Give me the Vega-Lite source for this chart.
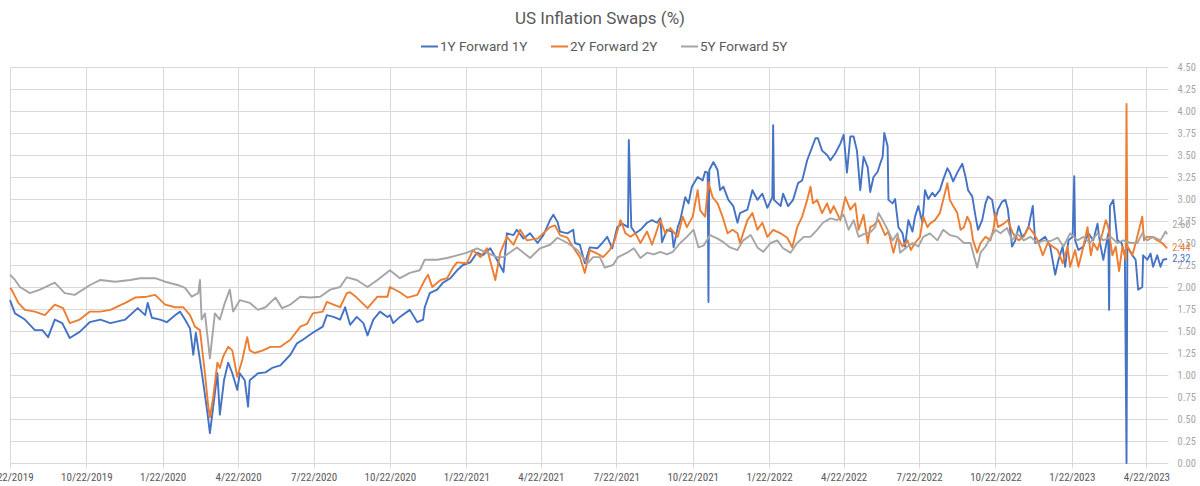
{
  "$schema": "https://vega.github.io/schema/vega-lite/v6.json",
  "width": 1158,
  "height": 396,
  "autosize": {"type": "none"},
  "padding": {"left": 10, "top": 67, "right": 32, "bottom": 23},
  "background": "white",
  "config": {"view": {"stroke": null}, "font": "Roboto"},
  "title": {"text": "US Inflation Swaps (%)", "font": "Roboto", "fontSize": 17, "fontWeight": "normal", "color": "#595959", "anchor": "middle", "frame": "group", "offset": 9, "dx": 11},
  "data": {"values": [
    {"s":"1Y Forward 1Y","d":"2019-07-22","v":1.85},{"s":"1Y Forward 1Y","d":"2019-07-28","v":1.70},{"s":"1Y Forward 1Y","d":"2019-08-09","v":1.63},{"s":"1Y Forward 1Y","d":"2019-08-21","v":1.51},{"s":"1Y Forward 1Y","d":"2019-08-30","v":1.51},{"s":"1Y Forward 1Y","d":"2019-09-06","v":1.43},{"s":"1Y Forward 1Y","d":"2019-09-14","v":1.63},{"s":"1Y Forward 1Y","d":"2019-09-23","v":1.59},{"s":"1Y Forward 1Y","d":"2019-10-02","v":1.42},{"s":"1Y Forward 1Y","d":"2019-10-14","v":1.49},{"s":"1Y Forward 1Y","d":"2019-10-26","v":1.60},{"s":"1Y Forward 1Y","d":"2019-11-08","v":1.63},{"s":"1Y Forward 1Y","d":"2019-11-20","v":1.59},{"s":"1Y Forward 1Y","d":"2019-12-08","v":1.63},{"s":"1Y Forward 1Y","d":"2019-12-23","v":1.76},{"s":"1Y Forward 1Y","d":"2020-01-01","v":1.68},{"s":"1Y Forward 1Y","d":"2020-01-04","v":1.82},{"s":"1Y Forward 1Y","d":"2020-01-09","v":1.65},{"s":"1Y Forward 1Y","d":"2020-01-19","v":1.63},{"s":"1Y Forward 1Y","d":"2020-01-27","v":1.60},{"s":"1Y Forward 1Y","d":"2020-02-06","v":1.68},{"s":"1Y Forward 1Y","d":"2020-02-12","v":1.72},{"s":"1Y Forward 1Y","d":"2020-02-18","v":1.63},{"s":"1Y Forward 1Y","d":"2020-02-24","v":1.53},{"s":"1Y Forward 1Y","d":"2020-02-28","v":1.23},{"s":"1Y Forward 1Y","d":"2020-03-02","v":1.48},{"s":"1Y Forward 1Y","d":"2020-03-07","v":1.17},{"s":"1Y Forward 1Y","d":"2020-03-11","v":0.91},{"s":"1Y Forward 1Y","d":"2020-03-16","v":0.57},{"s":"1Y Forward 1Y","d":"2020-03-19","v":0.34},{"s":"1Y Forward 1Y","d":"2020-03-23","v":0.64},{"s":"1Y Forward 1Y","d":"2020-03-28","v":1.02},{"s":"1Y Forward 1Y","d":"2020-03-31","v":0.55},{"s":"1Y Forward 1Y","d":"2020-04-05","v":0.94},{"s":"1Y Forward 1Y","d":"2020-04-10","v":1.14},{"s":"1Y Forward 1Y","d":"2020-04-15","v":1.02},{"s":"1Y Forward 1Y","d":"2020-04-21","v":0.83},{"s":"1Y Forward 1Y","d":"2020-04-24","v":1.02},{"s":"1Y Forward 1Y","d":"2020-04-30","v":0.94},{"s":"1Y Forward 1Y","d":"2020-05-04","v":0.64},{"s":"1Y Forward 1Y","d":"2020-05-06","v":0.94},{"s":"1Y Forward 1Y","d":"2020-05-16","v":1.02},{"s":"1Y Forward 1Y","d":"2020-05-25","v":1.03},{"s":"1Y Forward 1Y","d":"2020-06-02","v":1.08},{"s":"1Y Forward 1Y","d":"2020-06-12","v":1.11},{"s":"1Y Forward 1Y","d":"2020-06-24","v":1.23},{"s":"1Y Forward 1Y","d":"2020-07-02","v":1.36},{"s":"1Y Forward 1Y","d":"2020-07-09","v":1.40},{"s":"1Y Forward 1Y","d":"2020-07-21","v":1.48},{"s":"1Y Forward 1Y","d":"2020-08-02","v":1.55},{"s":"1Y Forward 1Y","d":"2020-08-07","v":1.68},{"s":"1Y Forward 1Y","d":"2020-08-15","v":1.66},{"s":"1Y Forward 1Y","d":"2020-08-23","v":1.63},{"s":"1Y Forward 1Y","d":"2020-08-29","v":1.77},{"s":"1Y Forward 1Y","d":"2020-09-04","v":1.57},{"s":"1Y Forward 1Y","d":"2020-09-12","v":1.66},{"s":"1Y Forward 1Y","d":"2020-09-20","v":1.59},{"s":"1Y Forward 1Y","d":"2020-09-25","v":1.45},{"s":"1Y Forward 1Y","d":"2020-10-02","v":1.63},{"s":"1Y Forward 1Y","d":"2020-10-10","v":1.72},{"s":"1Y Forward 1Y","d":"2020-10-19","v":1.66},{"s":"1Y Forward 1Y","d":"2020-10-22","v":1.68},{"s":"1Y Forward 1Y","d":"2020-10-26","v":1.59},{"s":"1Y Forward 1Y","d":"2020-11-03","v":1.66},{"s":"1Y Forward 1Y","d":"2020-11-15","v":1.74},{"s":"1Y Forward 1Y","d":"2020-11-24","v":1.60},{"s":"1Y Forward 1Y","d":"2020-12-01","v":1.63},{"s":"1Y Forward 1Y","d":"2020-12-03","v":1.77},{"s":"1Y Forward 1Y","d":"2020-12-09","v":1.93},{"s":"1Y Forward 1Y","d":"2020-12-18","v":1.97},{"s":"1Y Forward 1Y","d":"2020-12-25","v":2.05},{"s":"1Y Forward 1Y","d":"2021-01-03","v":2.10},{"s":"1Y Forward 1Y","d":"2021-01-11","v":2.19},{"s":"1Y Forward 1Y","d":"2021-01-18","v":2.25},{"s":"1Y Forward 1Y","d":"2021-01-27","v":2.28},{"s":"1Y Forward 1Y","d":"2021-02-04","v":2.39},{"s":"1Y Forward 1Y","d":"2021-02-11","v":2.36},{"s":"1Y Forward 1Y","d":"2021-02-20","v":2.44},{"s":"1Y Forward 1Y","d":"2021-02-28","v":2.31},{"s":"1Y Forward 1Y","d":"2021-03-08","v":2.17},{"s":"1Y Forward 1Y","d":"2021-03-12","v":2.61},{"s":"1Y Forward 1Y","d":"2021-03-20","v":2.59},{"s":"1Y Forward 1Y","d":"2021-03-24","v":2.65},{"s":"1Y Forward 1Y","d":"2021-04-01","v":2.55},{"s":"1Y Forward 1Y","d":"2021-04-09","v":2.61},{"s":"1Y Forward 1Y","d":"2021-04-18","v":2.50},{"s":"1Y Forward 1Y","d":"2021-04-25","v":2.59},{"s":"1Y Forward 1Y","d":"2021-05-03","v":2.76},{"s":"1Y Forward 1Y","d":"2021-05-07","v":2.82},{"s":"1Y Forward 1Y","d":"2021-05-12","v":2.74},{"s":"1Y Forward 1Y","d":"2021-05-15","v":2.63},{"s":"1Y Forward 1Y","d":"2021-05-24","v":2.61},{"s":"1Y Forward 1Y","d":"2021-05-31","v":2.65},{"s":"1Y Forward 1Y","d":"2021-06-02","v":2.50},{"s":"1Y Forward 1Y","d":"2021-06-08","v":2.48},{"s":"1Y Forward 1Y","d":"2021-06-14","v":2.27},{"s":"1Y Forward 1Y","d":"2021-06-20","v":2.45},{"s":"1Y Forward 1Y","d":"2021-06-29","v":2.44},{"s":"1Y Forward 1Y","d":"2021-07-05","v":2.50},{"s":"1Y Forward 1Y","d":"2021-07-11","v":2.57},{"s":"1Y Forward 1Y","d":"2021-07-17","v":2.44},{"s":"1Y Forward 1Y","d":"2021-07-23","v":2.68},{"s":"1Y Forward 1Y","d":"2021-07-29","v":2.72},{"s":"1Y Forward 1Y","d":"2021-08-05","v":2.68},{"s":"1Y Forward 1Y","d":"2021-08-06","v":3.67},{"s":"1Y Forward 1Y","d":"2021-08-09","v":2.68},{"s":"1Y Forward 1Y","d":"2021-08-14","v":2.61},{"s":"1Y Forward 1Y","d":"2021-08-20","v":2.65},{"s":"1Y Forward 1Y","d":"2021-08-28","v":2.73},{"s":"1Y Forward 1Y","d":"2021-09-03","v":2.76},{"s":"1Y Forward 1Y","d":"2021-09-09","v":2.73},{"s":"1Y Forward 1Y","d":"2021-09-13","v":2.78},{"s":"1Y Forward 1Y","d":"2021-09-15","v":2.51},{"s":"1Y Forward 1Y","d":"2021-09-21","v":2.65},{"s":"1Y Forward 1Y","d":"2021-09-27","v":2.63},{"s":"1Y Forward 1Y","d":"2021-09-29","v":2.45},{"s":"1Y Forward 1Y","d":"2021-10-04","v":2.68},{"s":"1Y Forward 1Y","d":"2021-10-07","v":2.76},{"s":"1Y Forward 1Y","d":"2021-10-13","v":3.02},{"s":"1Y Forward 1Y","d":"2021-10-17","v":2.95},{"s":"1Y Forward 1Y","d":"2021-10-21","v":3.14},{"s":"1Y Forward 1Y","d":"2021-10-28","v":3.25},{"s":"1Y Forward 1Y","d":"2021-11-03","v":3.21},{"s":"1Y Forward 1Y","d":"2021-11-06","v":3.31},{"s":"1Y Forward 1Y","d":"2021-11-09","v":3.30},{"s":"1Y Forward 1Y","d":"2021-11-10","v":1.83},{"s":"1Y Forward 1Y","d":"2021-11-11","v":3.33},{"s":"1Y Forward 1Y","d":"2021-11-16","v":3.42},{"s":"1Y Forward 1Y","d":"2021-11-21","v":3.33},{"s":"1Y Forward 1Y","d":"2021-11-24","v":3.10},{"s":"1Y Forward 1Y","d":"2021-11-28","v":3.14},{"s":"1Y Forward 1Y","d":"2021-12-04","v":2.99},{"s":"1Y Forward 1Y","d":"2021-12-10","v":2.92},{"s":"1Y Forward 1Y","d":"2021-12-15","v":2.73},{"s":"1Y Forward 1Y","d":"2021-12-18","v":2.84},{"s":"1Y Forward 1Y","d":"2021-12-27","v":2.88},{"s":"1Y Forward 1Y","d":"2022-01-02","v":3.10},{"s":"1Y Forward 1Y","d":"2022-01-08","v":2.99},{"s":"1Y Forward 1Y","d":"2022-01-14","v":3.06},{"s":"1Y Forward 1Y","d":"2022-01-20","v":2.90},{"s":"1Y Forward 1Y","d":"2022-01-26","v":3.02},{"s":"1Y Forward 1Y","d":"2022-01-27","v":3.84},{"s":"1Y Forward 1Y","d":"2022-01-28","v":2.99},{"s":"1Y Forward 1Y","d":"2022-02-05","v":2.92},{"s":"1Y Forward 1Y","d":"2022-02-08","v":3.06},{"s":"1Y Forward 1Y","d":"2022-02-14","v":2.92},{"s":"1Y Forward 1Y","d":"2022-02-20","v":2.99},{"s":"1Y Forward 1Y","d":"2022-02-26","v":3.18},{"s":"1Y Forward 1Y","d":"2022-03-03","v":3.21},{"s":"1Y Forward 1Y","d":"2022-03-09","v":3.44},{"s":"1Y Forward 1Y","d":"2022-03-15","v":3.59},{"s":"1Y Forward 1Y","d":"2022-03-19","v":3.69},{"s":"1Y Forward 1Y","d":"2022-03-22","v":3.69},{"s":"1Y Forward 1Y","d":"2022-03-27","v":3.55},{"s":"1Y Forward 1Y","d":"2022-04-02","v":3.50},{"s":"1Y Forward 1Y","d":"2022-04-06","v":3.44},{"s":"1Y Forward 1Y","d":"2022-04-12","v":3.52},{"s":"1Y Forward 1Y","d":"2022-04-18","v":3.63},{"s":"1Y Forward 1Y","d":"2022-04-22","v":3.73},{"s":"1Y Forward 1Y","d":"2022-04-26","v":3.30},{"s":"1Y Forward 1Y","d":"2022-04-30","v":3.71},{"s":"1Y Forward 1Y","d":"2022-05-04","v":3.71},{"s":"1Y Forward 1Y","d":"2022-05-08","v":3.55},{"s":"1Y Forward 1Y","d":"2022-05-12","v":3.10},{"s":"1Y Forward 1Y","d":"2022-05-16","v":3.48},{"s":"1Y Forward 1Y","d":"2022-05-21","v":3.36},{"s":"1Y Forward 1Y","d":"2022-05-24","v":3.08},{"s":"1Y Forward 1Y","d":"2022-05-28","v":3.25},{"s":"1Y Forward 1Y","d":"2022-06-02","v":3.31},{"s":"1Y Forward 1Y","d":"2022-06-05","v":3.40},{"s":"1Y Forward 1Y","d":"2022-06-08","v":3.48},{"s":"1Y Forward 1Y","d":"2022-06-10","v":3.75},{"s":"1Y Forward 1Y","d":"2022-06-14","v":3.60},{"s":"1Y Forward 1Y","d":"2022-06-15","v":2.99},{"s":"1Y Forward 1Y","d":"2022-06-20","v":2.95},{"s":"1Y Forward 1Y","d":"2022-06-23","v":3.00},{"s":"1Y Forward 1Y","d":"2022-06-27","v":2.68},{"s":"1Y Forward 1Y","d":"2022-07-02","v":2.61},{"s":"1Y Forward 1Y","d":"2022-07-05","v":2.46},{"s":"1Y Forward 1Y","d":"2022-07-09","v":2.76},{"s":"1Y Forward 1Y","d":"2022-07-14","v":2.63},{"s":"1Y Forward 1Y","d":"2022-07-17","v":2.80},{"s":"1Y Forward 1Y","d":"2022-07-21","v":2.92},{"s":"1Y Forward 1Y","d":"2022-07-26","v":2.73},{"s":"1Y Forward 1Y","d":"2022-07-29","v":3.10},{"s":"1Y Forward 1Y","d":"2022-08-02","v":3.00},{"s":"1Y Forward 1Y","d":"2022-08-07","v":3.07},{"s":"1Y Forward 1Y","d":"2022-08-10","v":3.03},{"s":"1Y Forward 1Y","d":"2022-08-16","v":3.10},{"s":"1Y Forward 1Y","d":"2022-08-20","v":3.22},{"s":"1Y Forward 1Y","d":"2022-08-25","v":3.35},{"s":"1Y Forward 1Y","d":"2022-08-28","v":3.30},{"s":"1Y Forward 1Y","d":"2022-09-01","v":3.20},{"s":"1Y Forward 1Y","d":"2022-09-06","v":3.30},{"s":"1Y Forward 1Y","d":"2022-09-12","v":3.40},{"s":"1Y Forward 1Y","d":"2022-09-16","v":3.25},{"s":"1Y Forward 1Y","d":"2022-09-19","v":3.10},{"s":"1Y Forward 1Y","d":"2022-09-24","v":3.03},{"s":"1Y Forward 1Y","d":"2022-09-28","v":2.80},{"s":"1Y Forward 1Y","d":"2022-10-01","v":2.65},{"s":"1Y Forward 1Y","d":"2022-10-06","v":2.76},{"s":"1Y Forward 1Y","d":"2022-10-10","v":2.95},{"s":"1Y Forward 1Y","d":"2022-10-13","v":3.03},{"s":"1Y Forward 1Y","d":"2022-10-18","v":2.99},{"s":"1Y Forward 1Y","d":"2022-10-22","v":2.76},{"s":"1Y Forward 1Y","d":"2022-10-25","v":2.88},{"s":"1Y Forward 1Y","d":"2022-10-30","v":2.97},{"s":"1Y Forward 1Y","d":"2022-11-03","v":2.99},{"s":"1Y Forward 1Y","d":"2022-11-06","v":2.88},{"s":"1Y Forward 1Y","d":"2022-11-11","v":2.46},{"s":"1Y Forward 1Y","d":"2022-11-15","v":2.53},{"s":"1Y Forward 1Y","d":"2022-11-19","v":2.69},{"s":"1Y Forward 1Y","d":"2022-11-23","v":2.57},{"s":"1Y Forward 1Y","d":"2022-11-27","v":2.61},{"s":"1Y Forward 1Y","d":"2022-12-01","v":2.69},{"s":"1Y Forward 1Y","d":"2022-12-06","v":2.92},{"s":"1Y Forward 1Y","d":"2022-12-09","v":2.50},{"s":"1Y Forward 1Y","d":"2022-12-15","v":2.53},{"s":"1Y Forward 1Y","d":"2022-12-21","v":2.57},{"s":"1Y Forward 1Y","d":"2022-12-27","v":2.46},{"s":"1Y Forward 1Y","d":"2023-01-02","v":2.14},{"s":"1Y Forward 1Y","d":"2023-01-06","v":2.31},{"s":"1Y Forward 1Y","d":"2023-01-11","v":2.46},{"s":"1Y Forward 1Y","d":"2023-01-14","v":2.23},{"s":"1Y Forward 1Y","d":"2023-01-18","v":2.53},{"s":"1Y Forward 1Y","d":"2023-01-23","v":2.57},{"s":"1Y Forward 1Y","d":"2023-01-25","v":3.26},{"s":"1Y Forward 1Y","d":"2023-01-26","v":2.53},{"s":"1Y Forward 1Y","d":"2023-01-30","v":2.42},{"s":"1Y Forward 1Y","d":"2023-02-05","v":2.46},{"s":"1Y Forward 1Y","d":"2023-02-11","v":2.61},{"s":"1Y Forward 1Y","d":"2023-02-17","v":2.53},{"s":"1Y Forward 1Y","d":"2023-02-22","v":2.72},{"s":"1Y Forward 1Y","d":"2023-02-25","v":2.50},{"s":"1Y Forward 1Y","d":"2023-03-01","v":2.31},{"s":"1Y Forward 1Y","d":"2023-03-07","v":2.61},{"s":"1Y Forward 1Y","d":"2023-03-08","v":1.74},{"s":"1Y Forward 1Y","d":"2023-03-09","v":2.92},{"s":"1Y Forward 1Y","d":"2023-03-13","v":2.99},{"s":"1Y Forward 1Y","d":"2023-03-18","v":2.53},{"s":"1Y Forward 1Y","d":"2023-03-23","v":2.50},{"s":"1Y Forward 1Y","d":"2023-03-27","v":2.36},{"s":"1Y Forward 1Y","d":"2023-03-29","v":0.00},{"s":"1Y Forward 1Y","d":"2023-03-30","v":2.46},{"s":"1Y Forward 1Y","d":"2023-04-05","v":2.36},{"s":"1Y Forward 1Y","d":"2023-04-09","v":2.31},{"s":"1Y Forward 1Y","d":"2023-04-12","v":1.97},{"s":"1Y Forward 1Y","d":"2023-04-17","v":2.00},{"s":"1Y Forward 1Y","d":"2023-04-18","v":2.36},{"s":"1Y Forward 1Y","d":"2023-04-23","v":2.31},{"s":"1Y Forward 1Y","d":"2023-04-27","v":2.38},{"s":"1Y Forward 1Y","d":"2023-04-30","v":2.23},{"s":"1Y Forward 1Y","d":"2023-05-05","v":2.36},{"s":"1Y Forward 1Y","d":"2023-05-09","v":2.23},{"s":"1Y Forward 1Y","d":"2023-05-12","v":2.31},{"s":"1Y Forward 1Y","d":"2023-05-17","v":2.32},
    {"s":"2Y Forward 2Y","d":"2019-07-22","v":1.99},{"s":"2Y Forward 2Y","d":"2019-07-24","v":1.97},{"s":"2Y Forward 2Y","d":"2019-08-01","v":1.82},{"s":"2Y Forward 2Y","d":"2019-08-09","v":1.74},{"s":"2Y Forward 2Y","d":"2019-08-21","v":1.72},{"s":"2Y Forward 2Y","d":"2019-09-02","v":1.68},{"s":"2Y Forward 2Y","d":"2019-09-14","v":1.80},{"s":"2Y Forward 2Y","d":"2019-09-24","v":1.76},{"s":"2Y Forward 2Y","d":"2019-10-02","v":1.59},{"s":"2Y Forward 2Y","d":"2019-10-14","v":1.63},{"s":"2Y Forward 2Y","d":"2019-10-26","v":1.72},{"s":"2Y Forward 2Y","d":"2019-11-08","v":1.72},{"s":"2Y Forward 2Y","d":"2019-11-20","v":1.74},{"s":"2Y Forward 2Y","d":"2019-12-08","v":1.82},{"s":"2Y Forward 2Y","d":"2019-12-20","v":1.88},{"s":"2Y Forward 2Y","d":"2020-01-03","v":1.89},{"s":"2Y Forward 2Y","d":"2020-01-13","v":1.91},{"s":"2Y Forward 2Y","d":"2020-01-25","v":1.80},{"s":"2Y Forward 2Y","d":"2020-02-06","v":1.77},{"s":"2Y Forward 2Y","d":"2020-02-16","v":1.77},{"s":"2Y Forward 2Y","d":"2020-02-24","v":1.68},{"s":"2Y Forward 2Y","d":"2020-03-01","v":1.55},{"s":"2Y Forward 2Y","d":"2020-03-07","v":1.51},{"s":"2Y Forward 2Y","d":"2020-03-13","v":1.02},{"s":"2Y Forward 2Y","d":"2020-03-17","v":0.64},{"s":"2Y Forward 2Y","d":"2020-03-19","v":0.52},{"s":"2Y Forward 2Y","d":"2020-03-23","v":0.75},{"s":"2Y Forward 2Y","d":"2020-03-28","v":1.14},{"s":"2Y Forward 2Y","d":"2020-03-31","v":1.08},{"s":"2Y Forward 2Y","d":"2020-04-04","v":1.21},{"s":"2Y Forward 2Y","d":"2020-04-10","v":1.32},{"s":"2Y Forward 2Y","d":"2020-04-15","v":1.28},{"s":"2Y Forward 2Y","d":"2020-04-21","v":0.98},{"s":"2Y Forward 2Y","d":"2020-04-27","v":1.17},{"s":"2Y Forward 2Y","d":"2020-05-03","v":1.43},{"s":"2Y Forward 2Y","d":"2020-05-06","v":1.28},{"s":"2Y Forward 2Y","d":"2020-05-12","v":1.25},{"s":"2Y Forward 2Y","d":"2020-05-22","v":1.28},{"s":"2Y Forward 2Y","d":"2020-05-31","v":1.32},{"s":"2Y Forward 2Y","d":"2020-06-12","v":1.32},{"s":"2Y Forward 2Y","d":"2020-06-24","v":1.40},{"s":"2Y Forward 2Y","d":"2020-07-06","v":1.55},{"s":"2Y Forward 2Y","d":"2020-07-14","v":1.58},{"s":"2Y Forward 2Y","d":"2020-07-21","v":1.70},{"s":"2Y Forward 2Y","d":"2020-08-02","v":1.72},{"s":"2Y Forward 2Y","d":"2020-08-07","v":1.83},{"s":"2Y Forward 2Y","d":"2020-08-15","v":1.80},{"s":"2Y Forward 2Y","d":"2020-08-23","v":1.77},{"s":"2Y Forward 2Y","d":"2020-08-31","v":1.93},{"s":"2Y Forward 2Y","d":"2020-09-04","v":1.94},{"s":"2Y Forward 2Y","d":"2020-09-12","v":1.88},{"s":"2Y Forward 2Y","d":"2020-09-25","v":1.76},{"s":"2Y Forward 2Y","d":"2020-10-07","v":1.89},{"s":"2Y Forward 2Y","d":"2020-10-19","v":1.89},{"s":"2Y Forward 2Y","d":"2020-10-22","v":2.00},{"s":"2Y Forward 2Y","d":"2020-11-03","v":1.94},{"s":"2Y Forward 2Y","d":"2020-11-12","v":1.88},{"s":"2Y Forward 2Y","d":"2020-11-24","v":1.91},{"s":"2Y Forward 2Y","d":"2020-12-03","v":2.08},{"s":"2Y Forward 2Y","d":"2020-12-07","v":2.14},{"s":"2Y Forward 2Y","d":"2020-12-12","v":2.00},{"s":"2Y Forward 2Y","d":"2020-12-22","v":2.08},{"s":"2Y Forward 2Y","d":"2020-12-30","v":2.10},{"s":"2Y Forward 2Y","d":"2021-01-06","v":2.22},{"s":"2Y Forward 2Y","d":"2021-01-11","v":2.28},{"s":"2Y Forward 2Y","d":"2021-01-23","v":2.27},{"s":"2Y Forward 2Y","d":"2021-01-30","v":2.42},{"s":"2Y Forward 2Y","d":"2021-02-08","v":2.34},{"s":"2Y Forward 2Y","d":"2021-02-16","v":2.44},{"s":"2Y Forward 2Y","d":"2021-02-26","v":2.08},{"s":"2Y Forward 2Y","d":"2021-03-04","v":2.39},{"s":"2Y Forward 2Y","d":"2021-03-12","v":2.57},{"s":"2Y Forward 2Y","d":"2021-03-20","v":2.48},{"s":"2Y Forward 2Y","d":"2021-03-28","v":2.65},{"s":"2Y Forward 2Y","d":"2021-04-05","v":2.53},{"s":"2Y Forward 2Y","d":"2021-04-18","v":2.55},{"s":"2Y Forward 2Y","d":"2021-04-25","v":2.61},{"s":"2Y Forward 2Y","d":"2021-05-03","v":2.68},{"s":"2Y Forward 2Y","d":"2021-05-09","v":2.70},{"s":"2Y Forward 2Y","d":"2021-05-15","v":2.59},{"s":"2Y Forward 2Y","d":"2021-05-24","v":2.56},{"s":"2Y Forward 2Y","d":"2021-06-02","v":2.42},{"s":"2Y Forward 2Y","d":"2021-06-08","v":2.34},{"s":"2Y Forward 2Y","d":"2021-06-14","v":2.16},{"s":"2Y Forward 2Y","d":"2021-06-20","v":2.42},{"s":"2Y Forward 2Y","d":"2021-06-29","v":2.38},{"s":"2Y Forward 2Y","d":"2021-07-06","v":2.34},{"s":"2Y Forward 2Y","d":"2021-07-14","v":2.42},{"s":"2Y Forward 2Y","d":"2021-07-20","v":2.53},{"s":"2Y Forward 2Y","d":"2021-07-27","v":2.76},{"s":"2Y Forward 2Y","d":"2021-08-02","v":2.61},{"s":"2Y Forward 2Y","d":"2021-08-08","v":2.57},{"s":"2Y Forward 2Y","d":"2021-08-14","v":2.61},{"s":"2Y Forward 2Y","d":"2021-08-20","v":2.50},{"s":"2Y Forward 2Y","d":"2021-08-28","v":2.63},{"s":"2Y Forward 2Y","d":"2021-09-03","v":2.48},{"s":"2Y Forward 2Y","d":"2021-09-13","v":2.76},{"s":"2Y Forward 2Y","d":"2021-09-19","v":2.61},{"s":"2Y Forward 2Y","d":"2021-09-25","v":2.67},{"s":"2Y Forward 2Y","d":"2021-10-04","v":2.57},{"s":"2Y Forward 2Y","d":"2021-10-10","v":2.80},{"s":"2Y Forward 2Y","d":"2021-10-15","v":2.68},{"s":"2Y Forward 2Y","d":"2021-10-22","v":2.80},{"s":"2Y Forward 2Y","d":"2021-10-28","v":3.10},{"s":"2Y Forward 2Y","d":"2021-10-31","v":2.87},{"s":"2Y Forward 2Y","d":"2021-11-06","v":2.80},{"s":"2Y Forward 2Y","d":"2021-11-10","v":3.19},{"s":"2Y Forward 2Y","d":"2021-11-15","v":3.02},{"s":"2Y Forward 2Y","d":"2021-11-21","v":2.95},{"s":"2Y Forward 2Y","d":"2021-11-27","v":2.80},{"s":"2Y Forward 2Y","d":"2021-12-03","v":2.61},{"s":"2Y Forward 2Y","d":"2021-12-09","v":2.65},{"s":"2Y Forward 2Y","d":"2021-12-15","v":2.61},{"s":"2Y Forward 2Y","d":"2021-12-18","v":2.50},{"s":"2Y Forward 2Y","d":"2021-12-27","v":2.76},{"s":"2Y Forward 2Y","d":"2022-01-02","v":2.84},{"s":"2Y Forward 2Y","d":"2022-01-08","v":2.65},{"s":"2Y Forward 2Y","d":"2022-01-14","v":2.73},{"s":"2Y Forward 2Y","d":"2022-01-20","v":2.57},{"s":"2Y Forward 2Y","d":"2022-01-27","v":2.65},{"s":"2Y Forward 2Y","d":"2022-02-05","v":2.61},{"s":"2Y Forward 2Y","d":"2022-02-13","v":2.56},{"s":"2Y Forward 2Y","d":"2022-02-19","v":2.45},{"s":"2Y Forward 2Y","d":"2022-02-25","v":2.68},{"s":"2Y Forward 2Y","d":"2022-03-03","v":2.80},{"s":"2Y Forward 2Y","d":"2022-03-09","v":2.99},{"s":"2Y Forward 2Y","d":"2022-03-13","v":3.14},{"s":"2Y Forward 2Y","d":"2022-03-16","v":2.95},{"s":"2Y Forward 2Y","d":"2022-03-21","v":2.99},{"s":"2Y Forward 2Y","d":"2022-03-27","v":2.84},{"s":"2Y Forward 2Y","d":"2022-04-02","v":2.95},{"s":"2Y Forward 2Y","d":"2022-04-06","v":2.84},{"s":"2Y Forward 2Y","d":"2022-04-10","v":2.92},{"s":"2Y Forward 2Y","d":"2022-04-18","v":2.76},{"s":"2Y Forward 2Y","d":"2022-04-24","v":3.02},{"s":"2Y Forward 2Y","d":"2022-04-30","v":2.88},{"s":"2Y Forward 2Y","d":"2022-05-06","v":2.95},{"s":"2Y Forward 2Y","d":"2022-05-10","v":2.65},{"s":"2Y Forward 2Y","d":"2022-05-16","v":2.82},{"s":"2Y Forward 2Y","d":"2022-05-21","v":2.50},{"s":"2Y Forward 2Y","d":"2022-05-24","v":2.68},{"s":"2Y Forward 2Y","d":"2022-05-28","v":2.70},{"s":"2Y Forward 2Y","d":"2022-06-03","v":2.76},{"s":"2Y Forward 2Y","d":"2022-06-11","v":2.59},{"s":"2Y Forward 2Y","d":"2022-06-15","v":2.63},{"s":"2Y Forward 2Y","d":"2022-06-21","v":2.39},{"s":"2Y Forward 2Y","d":"2022-06-26","v":2.57},{"s":"2Y Forward 2Y","d":"2022-07-02","v":2.46},{"s":"2Y Forward 2Y","d":"2022-07-08","v":2.53},{"s":"2Y Forward 2Y","d":"2022-07-12","v":2.42},{"s":"2Y Forward 2Y","d":"2022-07-17","v":2.50},{"s":"2Y Forward 2Y","d":"2022-07-23","v":2.57},{"s":"2Y Forward 2Y","d":"2022-07-27","v":2.80},{"s":"2Y Forward 2Y","d":"2022-08-01","v":2.68},{"s":"2Y Forward 2Y","d":"2022-08-04","v":2.72},{"s":"2Y Forward 2Y","d":"2022-08-10","v":2.76},{"s":"2Y Forward 2Y","d":"2022-08-16","v":2.84},{"s":"2Y Forward 2Y","d":"2022-08-20","v":2.99},{"s":"2Y Forward 2Y","d":"2022-08-25","v":3.18},{"s":"2Y Forward 2Y","d":"2022-08-28","v":2.99},{"s":"2Y Forward 2Y","d":"2022-09-01","v":2.92},{"s":"2Y Forward 2Y","d":"2022-09-06","v":2.84},{"s":"2Y Forward 2Y","d":"2022-09-10","v":2.65},{"s":"2Y Forward 2Y","d":"2022-09-14","v":2.68},{"s":"2Y Forward 2Y","d":"2022-09-18","v":2.80},{"s":"2Y Forward 2Y","d":"2022-09-22","v":2.72},{"s":"2Y Forward 2Y","d":"2022-09-25","v":2.53},{"s":"2Y Forward 2Y","d":"2022-09-30","v":2.39},{"s":"2Y Forward 2Y","d":"2022-10-04","v":2.50},{"s":"2Y Forward 2Y","d":"2022-10-10","v":2.57},{"s":"2Y Forward 2Y","d":"2022-10-16","v":2.53},{"s":"2Y Forward 2Y","d":"2022-10-20","v":2.68},{"s":"2Y Forward 2Y","d":"2022-10-22","v":2.84},{"s":"2Y Forward 2Y","d":"2022-10-25","v":2.68},{"s":"2Y Forward 2Y","d":"2022-11-01","v":2.72},{"s":"2Y Forward 2Y","d":"2022-11-06","v":2.76},{"s":"2Y Forward 2Y","d":"2022-11-12","v":2.61},{"s":"2Y Forward 2Y","d":"2022-11-19","v":2.53},{"s":"2Y Forward 2Y","d":"2022-11-25","v":2.57},{"s":"2Y Forward 2Y","d":"2022-12-01","v":2.68},{"s":"2Y Forward 2Y","d":"2022-12-07","v":2.61},{"s":"2Y Forward 2Y","d":"2022-12-12","v":2.53},{"s":"2Y Forward 2Y","d":"2022-12-18","v":2.36},{"s":"2Y Forward 2Y","d":"2022-12-24","v":2.50},{"s":"2Y Forward 2Y","d":"2022-12-30","v":2.46},{"s":"2Y Forward 2Y","d":"2023-01-05","v":2.42},{"s":"2Y Forward 2Y","d":"2023-01-11","v":2.27},{"s":"2Y Forward 2Y","d":"2023-01-17","v":2.46},{"s":"2Y Forward 2Y","d":"2023-01-20","v":2.23},{"s":"2Y Forward 2Y","d":"2023-01-26","v":2.42},{"s":"2Y Forward 2Y","d":"2023-01-30","v":2.23},{"s":"2Y Forward 2Y","d":"2023-02-05","v":2.46},{"s":"2Y Forward 2Y","d":"2023-02-10","v":2.68},{"s":"2Y Forward 2Y","d":"2023-02-14","v":2.36},{"s":"2Y Forward 2Y","d":"2023-02-17","v":2.50},{"s":"2Y Forward 2Y","d":"2023-02-22","v":2.42},{"s":"2Y Forward 2Y","d":"2023-02-28","v":2.61},{"s":"2Y Forward 2Y","d":"2023-03-04","v":2.76},{"s":"2Y Forward 2Y","d":"2023-03-07","v":2.68},{"s":"2Y Forward 2Y","d":"2023-03-12","v":2.36},{"s":"2Y Forward 2Y","d":"2023-03-16","v":2.46},{"s":"2Y Forward 2Y","d":"2023-03-20","v":2.18},{"s":"2Y Forward 2Y","d":"2023-03-24","v":2.46},{"s":"2Y Forward 2Y","d":"2023-03-28","v":2.31},{"s":"2Y Forward 2Y","d":"2023-03-29","v":4.08},{"s":"2Y Forward 2Y","d":"2023-03-30","v":2.46},{"s":"2Y Forward 2Y","d":"2023-04-05","v":2.36},{"s":"2Y Forward 2Y","d":"2023-04-09","v":2.50},{"s":"2Y Forward 2Y","d":"2023-04-12","v":2.61},{"s":"2Y Forward 2Y","d":"2023-04-17","v":2.80},{"s":"2Y Forward 2Y","d":"2023-04-19","v":2.53},{"s":"2Y Forward 2Y","d":"2023-04-23","v":2.57},{"s":"2Y Forward 2Y","d":"2023-04-29","v":2.57},{"s":"2Y Forward 2Y","d":"2023-05-05","v":2.53},{"s":"2Y Forward 2Y","d":"2023-05-11","v":2.50},{"s":"2Y Forward 2Y","d":"2023-05-17","v":2.44},
    {"s":"5Y Forward 5Y","d":"2019-07-22","v":2.14},{"s":"5Y Forward 5Y","d":"2019-07-28","v":2.08},{"s":"5Y Forward 5Y","d":"2019-08-03","v":2.00},{"s":"5Y Forward 5Y","d":"2019-08-15","v":1.93},{"s":"5Y Forward 5Y","d":"2019-08-27","v":1.97},{"s":"5Y Forward 5Y","d":"2019-09-14","v":2.05},{"s":"5Y Forward 5Y","d":"2019-09-26","v":1.93},{"s":"5Y Forward 5Y","d":"2019-10-08","v":1.91},{"s":"5Y Forward 5Y","d":"2019-10-26","v":2.02},{"s":"5Y Forward 5Y","d":"2019-11-08","v":2.08},{"s":"5Y Forward 5Y","d":"2019-11-26","v":2.06},{"s":"5Y Forward 5Y","d":"2019-12-14","v":2.08},{"s":"5Y Forward 5Y","d":"2019-12-26","v":2.10},{"s":"5Y Forward 5Y","d":"2020-01-13","v":2.10},{"s":"5Y Forward 5Y","d":"2020-01-25","v":2.06},{"s":"5Y Forward 5Y","d":"2020-02-10","v":2.02},{"s":"5Y Forward 5Y","d":"2020-02-18","v":1.99},{"s":"5Y Forward 5Y","d":"2020-02-26","v":1.89},{"s":"5Y Forward 5Y","d":"2020-03-05","v":1.93},{"s":"5Y Forward 5Y","d":"2020-03-07","v":2.08},{"s":"5Y Forward 5Y","d":"2020-03-09","v":1.63},{"s":"5Y Forward 5Y","d":"2020-03-13","v":1.70},{"s":"5Y Forward 5Y","d":"2020-03-19","v":1.19},{"s":"5Y Forward 5Y","d":"2020-03-25","v":1.70},{"s":"5Y Forward 5Y","d":"2020-03-31","v":1.63},{"s":"5Y Forward 5Y","d":"2020-04-06","v":1.82},{"s":"5Y Forward 5Y","d":"2020-04-12","v":1.97},{"s":"5Y Forward 5Y","d":"2020-04-16","v":1.72},{"s":"5Y Forward 5Y","d":"2020-04-24","v":1.85},{"s":"5Y Forward 5Y","d":"2020-05-06","v":1.82},{"s":"5Y Forward 5Y","d":"2020-05-16","v":1.74},{"s":"5Y Forward 5Y","d":"2020-05-25","v":1.77},{"s":"5Y Forward 5Y","d":"2020-06-06","v":1.88},{"s":"5Y Forward 5Y","d":"2020-06-14","v":1.76},{"s":"5Y Forward 5Y","d":"2020-06-24","v":1.80},{"s":"5Y Forward 5Y","d":"2020-07-06","v":1.89},{"s":"5Y Forward 5Y","d":"2020-07-18","v":1.88},{"s":"5Y Forward 5Y","d":"2020-07-30","v":1.89},{"s":"5Y Forward 5Y","d":"2020-08-11","v":1.97},{"s":"5Y Forward 5Y","d":"2020-08-23","v":2.00},{"s":"5Y Forward 5Y","d":"2020-08-31","v":2.11},{"s":"5Y Forward 5Y","d":"2020-09-12","v":2.08},{"s":"5Y Forward 5Y","d":"2020-09-25","v":2.00},{"s":"5Y Forward 5Y","d":"2020-10-07","v":2.08},{"s":"5Y Forward 5Y","d":"2020-10-22","v":2.19},{"s":"5Y Forward 5Y","d":"2020-11-03","v":2.10},{"s":"5Y Forward 5Y","d":"2020-11-15","v":2.16},{"s":"5Y Forward 5Y","d":"2020-11-27","v":2.19},{"s":"5Y Forward 5Y","d":"2020-12-03","v":2.31},{"s":"5Y Forward 5Y","d":"2020-12-18","v":2.31},{"s":"5Y Forward 5Y","d":"2020-12-30","v":2.33},{"s":"5Y Forward 5Y","d":"2021-01-11","v":2.36},{"s":"5Y Forward 5Y","d":"2021-01-23","v":2.39},{"s":"5Y Forward 5Y","d":"2021-02-04","v":2.44},{"s":"5Y Forward 5Y","d":"2021-02-16","v":2.39},{"s":"5Y Forward 5Y","d":"2021-02-28","v":2.34},{"s":"5Y Forward 5Y","d":"2021-03-08","v":2.34},{"s":"5Y Forward 5Y","d":"2021-03-24","v":2.45},{"s":"5Y Forward 5Y","d":"2021-04-09","v":2.33},{"s":"5Y Forward 5Y","d":"2021-04-21","v":2.44},{"s":"5Y Forward 5Y","d":"2021-05-03","v":2.48},{"s":"5Y Forward 5Y","d":"2021-05-12","v":2.56},{"s":"5Y Forward 5Y","d":"2021-05-24","v":2.50},{"s":"5Y Forward 5Y","d":"2021-06-05","v":2.42},{"s":"5Y Forward 5Y","d":"2021-06-17","v":2.27},{"s":"5Y Forward 5Y","d":"2021-06-24","v":2.34},{"s":"5Y Forward 5Y","d":"2021-07-02","v":2.34},{"s":"5Y Forward 5Y","d":"2021-07-08","v":2.22},{"s":"5Y Forward 5Y","d":"2021-07-18","v":2.25},{"s":"5Y Forward 5Y","d":"2021-07-24","v":2.34},{"s":"5Y Forward 5Y","d":"2021-08-04","v":2.39},{"s":"5Y Forward 5Y","d":"2021-08-12","v":2.44},{"s":"5Y Forward 5Y","d":"2021-08-20","v":2.33},{"s":"5Y Forward 5Y","d":"2021-08-28","v":2.39},{"s":"5Y Forward 5Y","d":"2021-09-05","v":2.37},{"s":"5Y Forward 5Y","d":"2021-09-13","v":2.40},{"s":"5Y Forward 5Y","d":"2021-09-21","v":2.37},{"s":"5Y Forward 5Y","d":"2021-09-28","v":2.40},{"s":"5Y Forward 5Y","d":"2021-10-07","v":2.50},{"s":"5Y Forward 5Y","d":"2021-10-15","v":2.57},{"s":"5Y Forward 5Y","d":"2021-10-23","v":2.65},{"s":"5Y Forward 5Y","d":"2021-10-29","v":2.45},{"s":"5Y Forward 5Y","d":"2021-11-04","v":2.47},{"s":"5Y Forward 5Y","d":"2021-11-12","v":2.59},{"s":"5Y Forward 5Y","d":"2021-11-21","v":2.55},{"s":"5Y Forward 5Y","d":"2021-11-28","v":2.51},{"s":"5Y Forward 5Y","d":"2021-12-06","v":2.45},{"s":"5Y Forward 5Y","d":"2021-12-15","v":2.42},{"s":"5Y Forward 5Y","d":"2021-12-22","v":2.53},{"s":"5Y Forward 5Y","d":"2021-12-31","v":2.59},{"s":"5Y Forward 5Y","d":"2022-01-08","v":2.45},{"s":"5Y Forward 5Y","d":"2022-01-15","v":2.40},{"s":"5Y Forward 5Y","d":"2022-01-24","v":2.50},{"s":"5Y Forward 5Y","d":"2022-02-01","v":2.53},{"s":"5Y Forward 5Y","d":"2022-02-08","v":2.44},{"s":"5Y Forward 5Y","d":"2022-02-17","v":2.39},{"s":"5Y Forward 5Y","d":"2022-02-25","v":2.50},{"s":"5Y Forward 5Y","d":"2022-03-05","v":2.57},{"s":"5Y Forward 5Y","d":"2022-03-13","v":2.57},{"s":"5Y Forward 5Y","d":"2022-03-21","v":2.65},{"s":"5Y Forward 5Y","d":"2022-03-28","v":2.73},{"s":"5Y Forward 5Y","d":"2022-04-06","v":2.78},{"s":"5Y Forward 5Y","d":"2022-04-14","v":2.76},{"s":"5Y Forward 5Y","d":"2022-04-22","v":2.82},{"s":"5Y Forward 5Y","d":"2022-04-28","v":2.65},{"s":"5Y Forward 5Y","d":"2022-05-04","v":2.76},{"s":"5Y Forward 5Y","d":"2022-05-10","v":2.57},{"s":"5Y Forward 5Y","d":"2022-05-16","v":2.60},{"s":"5Y Forward 5Y","d":"2022-05-24","v":2.62},{"s":"5Y Forward 5Y","d":"2022-05-30","v":2.68},{"s":"5Y Forward 5Y","d":"2022-06-03","v":2.84},{"s":"5Y Forward 5Y","d":"2022-06-08","v":2.76},{"s":"5Y Forward 5Y","d":"2022-06-14","v":2.65},{"s":"5Y Forward 5Y","d":"2022-06-20","v":2.53},{"s":"5Y Forward 5Y","d":"2022-06-26","v":2.61},{"s":"5Y Forward 5Y","d":"2022-06-29","v":2.39},{"s":"5Y Forward 5Y","d":"2022-07-08","v":2.46},{"s":"5Y Forward 5Y","d":"2022-07-14","v":2.50},{"s":"5Y Forward 5Y","d":"2022-07-21","v":2.46},{"s":"5Y Forward 5Y","d":"2022-07-27","v":2.57},{"s":"5Y Forward 5Y","d":"2022-08-04","v":2.61},{"s":"5Y Forward 5Y","d":"2022-08-13","v":2.53},{"s":"5Y Forward 5Y","d":"2022-08-20","v":2.65},{"s":"5Y Forward 5Y","d":"2022-08-28","v":2.59},{"s":"5Y Forward 5Y","d":"2022-09-06","v":2.57},{"s":"5Y Forward 5Y","d":"2022-09-14","v":2.50},{"s":"5Y Forward 5Y","d":"2022-09-22","v":2.50},{"s":"5Y Forward 5Y","d":"2022-09-25","v":2.39},{"s":"5Y Forward 5Y","d":"2022-09-30","v":2.22},{"s":"5Y Forward 5Y","d":"2022-10-04","v":2.39},{"s":"5Y Forward 5Y","d":"2022-10-10","v":2.46},{"s":"5Y Forward 5Y","d":"2022-10-16","v":2.56},{"s":"5Y Forward 5Y","d":"2022-10-22","v":2.65},{"s":"5Y Forward 5Y","d":"2022-10-28","v":2.61},{"s":"5Y Forward 5Y","d":"2022-11-05","v":2.67},{"s":"5Y Forward 5Y","d":"2022-11-11","v":2.53},{"s":"5Y Forward 5Y","d":"2022-11-17","v":2.61},{"s":"5Y Forward 5Y","d":"2022-11-25","v":2.53},{"s":"5Y Forward 5Y","d":"2022-12-03","v":2.57},{"s":"5Y Forward 5Y","d":"2022-12-12","v":2.50},{"s":"5Y Forward 5Y","d":"2022-12-19","v":2.53},{"s":"5Y Forward 5Y","d":"2022-12-27","v":2.52},{"s":"5Y Forward 5Y","d":"2023-01-05","v":2.56},{"s":"5Y Forward 5Y","d":"2023-01-12","v":2.46},{"s":"5Y Forward 5Y","d":"2023-01-20","v":2.61},{"s":"5Y Forward 5Y","d":"2023-01-29","v":2.53},{"s":"5Y Forward 5Y","d":"2023-02-05","v":2.57},{"s":"5Y Forward 5Y","d":"2023-02-13","v":2.50},{"s":"5Y Forward 5Y","d":"2023-02-22","v":2.61},{"s":"5Y Forward 5Y","d":"2023-03-01","v":2.53},{"s":"5Y Forward 5Y","d":"2023-03-10","v":2.57},{"s":"5Y Forward 5Y","d":"2023-03-18","v":2.50},{"s":"5Y Forward 5Y","d":"2023-03-25","v":2.53},{"s":"5Y Forward 5Y","d":"2023-04-03","v":2.50},{"s":"5Y Forward 5Y","d":"2023-04-11","v":2.50},{"s":"5Y Forward 5Y","d":"2023-04-17","v":2.61},{"s":"5Y Forward 5Y","d":"2023-04-23","v":2.53},{"s":"5Y Forward 5Y","d":"2023-04-30","v":2.57},{"s":"5Y Forward 5Y","d":"2023-05-09","v":2.53},{"s":"5Y Forward 5Y","d":"2023-05-15","v":2.63},{"s":"5Y Forward 5Y","d":"2023-05-17","v":2.60}
  ]},
  "encoding": {
    "x": {
      "field": "d", "type": "temporal",
      "scale": {"type": "utc", "domain": [{"year": 2019, "month": 7, "date": 22, "utc": true}, {"year": 2023, "month": 5, "date": 18, "utc": true}]},
      "axis": {
        "title": null,
        "values": [
          {"year": 2019, "month": 7, "date": 22, "utc": true}, {"year": 2019, "month": 10, "date": 22, "utc": true},
          {"year": 2020, "month": 1, "date": 22, "utc": true}, {"year": 2020, "month": 4, "date": 22, "utc": true},
          {"year": 2020, "month": 7, "date": 22, "utc": true}, {"year": 2020, "month": 10, "date": 22, "utc": true},
          {"year": 2021, "month": 1, "date": 22, "utc": true}, {"year": 2021, "month": 4, "date": 22, "utc": true},
          {"year": 2021, "month": 7, "date": 22, "utc": true}, {"year": 2021, "month": 10, "date": 22, "utc": true},
          {"year": 2022, "month": 1, "date": 22, "utc": true}, {"year": 2022, "month": 4, "date": 22, "utc": true},
          {"year": 2022, "month": 7, "date": 22, "utc": true}, {"year": 2022, "month": 10, "date": 22, "utc": true},
          {"year": 2023, "month": 1, "date": 22, "utc": true}, {"year": 2023, "month": 4, "date": 22, "utc": true}
        ],
        "format": "%-m/%-d/%Y",
        "domain": false,
        "ticks": true, "tickColor": "#D9D9D9", "tickSize": 5,
        "grid": true, "gridColor": "#D9D9D9", "gridWidth": 1,
        "labelColor": "#595959", "labelFontSize": 11, "labelFont": "Liberation Sans Narrow, Roboto Condensed, Roboto",
        "labelPadding": 3, "labelOverlap": false, "labelBound": false, "labelFlush": false
      }
    },
    "y": {
      "field": "v", "type": "quantitative",
      "scale": {"domain": [0, 4.5], "nice": false, "zero": false},
      "axis": {
        "title": null, "orient": "right",
        "values": [0, 0.25, 0.5, 0.75, 1, 1.25, 1.5, 1.75, 2, 2.25, 2.5, 2.75, 3, 3.25, 3.5, 3.75, 4, 4.25, 4.5],
        "format": ".2f", "domain": false, "ticks": false,
        "grid": true, "gridColor": "#D9D9D9", "gridWidth": 1,
        "labelColor": "#A6A6A6", "labelFontSize": 10.5, "labelFont": "Liberation Sans Narrow, Roboto Condensed, Roboto",
        "labelPadding": 9
      }
    }
  },
  "layer": [
    {
      "mark": {"type": "line", "strokeWidth": 1.9, "strokeJoin": "round"},
      "encoding": {
        "color": {
          "field": "s", "type": "nominal",
          "scale": {"domain": ["1Y Forward 1Y", "2Y Forward 2Y", "5Y Forward 5Y"], "range": ["#4472C4", "#ED7D31", "#A5A5A5"]},
          "legend": {
            "orient": "none", "legendX": 410, "legendY": -30, "direction": "horizontal",
            "title": null, "symbolType": "stroke", "symbolSize": 289, "symbolStrokeWidth": 2,
            "labelFontSize": 13.5, "labelColor": "#595959", "labelFont": "Roboto",
            "labelOffset": 1, "columnPadding": 19, "padding": 0
          }
        }
      }
    },
    {
      "transform": [
        {"joinaggregate": [{"op": "max", "field": "d", "as": "dmax"}], "groupby": ["s"]},
        {"filter": "time(datum.d) == time(datum.dmax) && datum.s == '5Y Forward 5Y'"}
      ],
      "mark": {"type": "text", "align": "left", "baseline": "middle", "dx": 5, "dy": -9, "fontSize": 10.5, "font": "Liberation Sans Narrow, Roboto Condensed, Roboto"},
      "encoding": {
        "text": {"field": "v", "type": "quantitative", "format": ".2f"},
        "color": {"field": "s", "type": "nominal", "legend": null}
      }
    },
    {
      "transform": [
        {"joinaggregate": [{"op": "max", "field": "d", "as": "dmax"}], "groupby": ["s"]},
        {"filter": "time(datum.d) == time(datum.dmax) && datum.s != '5Y Forward 5Y'"}
      ],
      "mark": {"type": "text", "align": "left", "baseline": "middle", "dx": 5, "fontSize": 10.5, "font": "Liberation Sans Narrow, Roboto Condensed, Roboto"},
      "encoding": {
        "text": {"field": "v", "type": "quantitative", "format": ".2f"},
        "color": {"field": "s", "type": "nominal", "legend": null}
      }
    }
  ]
}
